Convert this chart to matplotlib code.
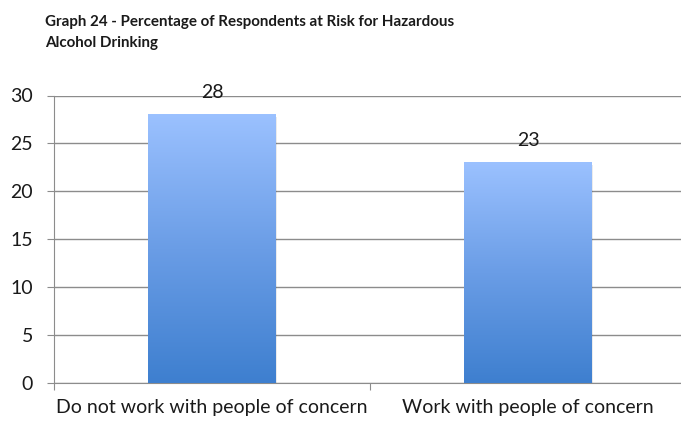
import matplotlib.pyplot as plt
import numpy as np
from matplotlib.colors import LinearSegmentedColormap

categories = ['Do not work with people of concern', 'Work with people of concern']
values = [28, 23]
title = 'Graph 24 - Percentage of Respondents at Risk for Hazardous\nAlcohol Drinking'

plt.rcParams['font.family'] = ['Lato', 'DejaVu Sans']

fig = plt.figure(figsize=(6.81, 4.21), dpi=100)
ax = fig.add_axes([54 / 681, 1 - 383 / 421, 632 / 681, 287.5 / 421])

grad = LinearSegmentedColormap.from_list('bar', ['#3e7fcf', '#6a9de6', '#9bc1ff'])
gimg = np.linspace(0, 1, 256).reshape(-1, 1)

fs = 14
bar_w = 0.405
for i, v in enumerate(values):
    x0, x1 = i - bar_w / 2, i + bar_w / 2
    # soft shadow
    ax.add_patch(plt.Rectangle((x0 + 0.004, -0.2), bar_w, v, color='#000000', alpha=0.08,
                               lw=0, zorder=2))
    ax.imshow(gimg, extent=[x0, x1, 0, v], origin='lower', cmap=grad, aspect='auto', zorder=3)
    ax.annotate(str(v), (i, v), xytext=(0, 12), textcoords='offset points',
                ha='center', va='baseline', fontsize=fs, color='#1a1a1a')

ax.set_xlim(-0.5, 1.5)
ax.set_ylim(0, 30)
ax.set_yticks(range(0, 31, 5))
ax.yaxis.grid(True, color='#8c8c8c', lw=1)
ax.set_axisbelow(True)

ax.set_xticks([-0.5, 0.5, 1.5])
ax.set_xticklabels(['', '', ''])
for i, c in enumerate(categories):
    ax.text(i, -1.7, c, ha='center', va='top', fontsize=fs, color='#1a1a1a')

for s in ['top', 'right']:
    ax.spines[s].set_visible(False)
for s in ['left', 'bottom']:
    ax.spines[s].set_color('#8c8c8c')
ax.tick_params(axis='both', color='#8c8c8c', length=5, labelsize=fs, labelcolor='#1a1a1a')
ax.tick_params(axis='y', pad=10)

fig.text(45 / 681, 1 - 15 / 421, title, ha='left', va='top', fontsize=10.9,
         fontweight='bold', color='#1a1a1a', linespacing=1.6)

fig.savefig('out.png', dpi=100, facecolor='white')
